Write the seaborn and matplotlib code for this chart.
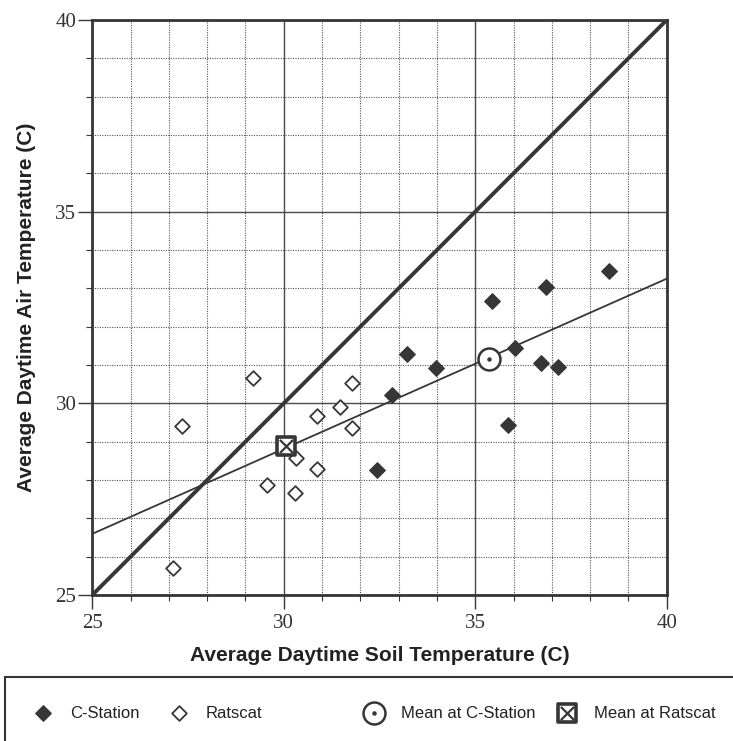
import numpy as np
import pandas as pd
import matplotlib
matplotlib.use("Agg")
import matplotlib.pyplot as plt
from matplotlib.patches import Rectangle
from matplotlib.ticker import MultipleLocator
import seaborn as sns

# Average daytime soil / air temperatures (C)
cstation_soil = [35.43, 36.86, 38.50, 33.22, 33.97, 32.83, 36.05, 36.73, 37.17, 35.85, 32.44]
cstation_air = [32.68, 33.03, 33.45, 31.30, 30.93, 30.22, 31.45, 31.04, 30.94, 29.43, 28.26]
ratscat_soil = [29.20, 27.33, 31.77, 31.47, 30.86, 31.77, 30.32, 30.87, 29.57, 30.29, 27.10]
ratscat_air = [30.65, 29.42, 30.54, 29.90, 29.67, 29.35, 28.57, 28.28, 27.87, 27.67, 25.71]

axis_range = [25, 40]
tick_values = [25, 30, 35, 40]

dark = "#363636"
ink = "#222222"

sns.set_style("white")
plt.rcParams["font.family"] = ["Liberation Sans", "DejaVu Sans"]

W, H = 733, 741
fig = plt.figure(figsize=(W / 100, H / 100), dpi=100)
ax = fig.add_axes([92.3 / W, 1 - 595 / H, (666.7 - 92.3) / W, (595 - 20) / H])
ax.set_xlim(axis_range)
ax.set_ylim(axis_range)

# grid: solid every 5 degrees, dotted every degree
ax.xaxis.set_major_locator(MultipleLocator(5))
ax.yaxis.set_major_locator(MultipleLocator(5))
ax.xaxis.set_minor_locator(MultipleLocator(1))
ax.yaxis.set_minor_locator(MultipleLocator(1))
ax.set_axisbelow(True)
ax.grid(which="major", color="#4a4a4a", linestyle="-", linewidth=1.0)
ax.grid(which="minor", color="#555555", linestyle=(0, (1, 1.2)), linewidth=0.8)
ax.tick_params(which="both", bottom=True, left=True, top=False, right=False)
ax.tick_params(which="major", direction="out", length=10, width=1.0, color=dark,
               labelsize=15, labelcolor="#333333", pad=4)
ax.tick_params(axis="y", which="major", pad=1.5)
ax.tick_params(which="minor", direction="out", length=4, width=0.8, color=dark)
ax.set_xticks(tick_values)
ax.set_yticks(tick_values)
for lab in ax.get_xticklabels() + ax.get_yticklabels():
    lab.set_fontfamily("Liberation Serif")
for sp in ax.spines.values():
    sp.set_linewidth(2.0)
    sp.set_color(dark)

# 1:1 line
ax.plot(axis_range, axis_range, color=dark, linewidth=2.8, zorder=3, solid_capstyle="butt")

# pooled least-squares fit across both sites
pooled = pd.DataFrame({
    "soil": cstation_soil + ratscat_soil,
    "air": cstation_air + ratscat_air,
})
sns.regplot(data=pooled, x="soil", y="air", ax=ax, scatter=False, ci=None,
            truncate=False, line_kws=dict(color=dark, linewidth=1.3, zorder=3))
ax.set_xlim(axis_range)
ax.set_ylim(axis_range)

# station observations
sns.scatterplot(x=cstation_soil, y=cstation_air, ax=ax, marker="D", s=64,
                color=dark, edgecolor=dark, linewidth=0.8, zorder=4,
                label="C-Station", legend=False)
sns.scatterplot(x=ratscat_soil, y=ratscat_air, ax=ax, marker="D", s=56,
                facecolor="white", edgecolor=dark, linewidth=1.3, zorder=4,
                label="Ratscat", legend=False)

# site means
c_mean = (np.mean(cstation_soil), np.mean(cstation_air))
r_mean = (np.mean(ratscat_soil), np.mean(ratscat_air))
circ = ax.scatter([c_mean[0]], [c_mean[1]], marker="o", s=250, facecolor="white",
                  edgecolor=dark, linewidth=1.8, zorder=5)
dot = ax.scatter([c_mean[0]], [c_mean[1]], marker="o", s=5, color=dark, zorder=6)
sq = ax.scatter([r_mean[0]], [r_mean[1]], marker="s", s=170, facecolor="white",
                edgecolor=dark, linewidth=2.6, zorder=5)
xm = ax.scatter([r_mean[0]], [r_mean[1]], marker="x", s=90, color=dark,
                linewidth=1.6, zorder=6)

ax.set_xlabel("Average Daytime Soil Temperature (C)", fontsize=15, fontweight="bold",
              color=ink, labelpad=9)
ax.set_ylabel("Average Daytime Air Temperature (C)", fontsize=15, fontweight="bold",
              color=ink, labelpad=14)

# legend panel
fig.patches.append(Rectangle((5 / W, -0.05), 1.0, 1 - 677 / H + 0.05,
                             transform=fig.transFigure, fill=False,
                             edgecolor=dark, linewidth=1.5))
handles, labels = ax.get_legend_handles_labels()
hmap = dict(zip(labels, handles))
leg_kw = dict(frameon=False, fontsize=12, loc="center left", borderpad=0,
              borderaxespad=0, handlelength=1.0, handletextpad=1.1,
              scatterpoints=1, labelcolor=ink)
fig.legend([hmap["C-Station"], hmap["Ratscat"]], ["C-Station", "Ratscat"], ncol=2,
           columnspacing=1.9, bbox_to_anchor=(34.7 / W, 1 - 713 / H), **leg_kw)
fig.legend([(circ, dot), (sq, xm)], ["Mean at C-Station", "Mean at Ratscat"], ncol=2,
           columnspacing=1.4, bbox_to_anchor=(365.7 / W, 1 - 713 / H), **leg_kw)

fig.savefig("out.png", dpi=100, facecolor="white")
